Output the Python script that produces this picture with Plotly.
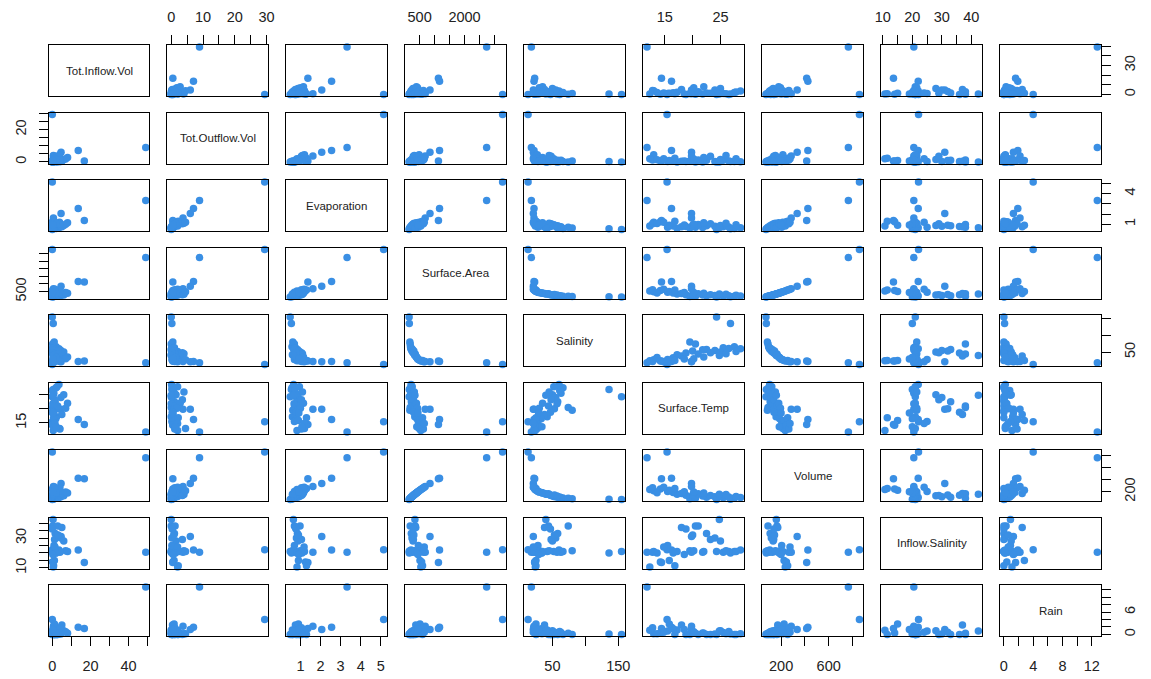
import plotly.graph_objects as go

# Variables shown on the diagonal, in panel order
names = ["Tot.Inflow.Vol", "Tot.Outflow.Vol", "Evaporation", "Surface.Area",
         "Salinity", "Surface.Temp", "Volume", "Inflow.Salinity", "Rain"]

tot_inflow_vol = [0, 49, 13.6, 16.8, 4.6, 0.6,
                  0, 0.5, 1.0, 0.2, 2.0, 0.8, 3.5, 1.5, 0, 4.5, 2.5, 0.3, 6.0, 1.2, 3.0, 0.6,
                  2.2, 2.8, 5.0, 8.0, 1.8, 7.0, 0.9, 3.8, 1.1, 0.5, 0.1, 0.7, 4.0, 1.4, 0, 0.4,
                  2.0, 0.3]
tot_outflow_vol = [29.4, 8.9, 7.0, 0.5, 6.0, 3.7,
                   0, 0.2, 0.5, 0, 0.3, 1.0, 0.1, 1.0, 0.6, 0.2, 2.0, 0, 1.5, 3.5, 0.8, 4.0, 0,
                   1.2, 0.4, 2.8, 0.7, 1.8, 0.2, 4.5, 0.9, 2.0, 0.5, 2.2, 1.1, 2.0, 0.3, 0, 1.3,
                   0.6]
evaporation = [5.14, 3.32, 2.55, 1.37, 2.06, 1.62,
               0.49, 0.55, 0.62, 0.70, 0.58, 0.75, 0.66, 0.85, 0.72, 0.80, 0.95, 0.68, 0.88,
               1.05, 0.90, 1.10, 0.60, 0.98, 0.75, 1.15, 0.82, 1.00, 0.70, 1.20, 0.90, 0.83,
               1.25, 1.30, 1.05, 1.18, 0.78, 0.65, 1.08, 0.92]
surface_area = [3270, 2738, 1165, 1128, 846, 687,
                150, 156, 174, 185, 195, 206, 214, 223, 232, 245, 254, 268, 279, 291, 307, 324,
                338, 355, 372, 393, 413, 431, 458, 484, 512, 540, 568, 597, 626, 656, 295, 343,
                405, 444]
salinity = [13, 18, 22, 23, 21, 22,
            155, 136, 80, 74, 66, 63, 60, 58, 61, 55, 52, 57, 50, 48, 53, 45, 42, 44, 38, 35,
            33, 30, 28, 27, 25, 24, 23, 25, 22, 21, 47, 40, 34, 29]
surface_temp = [15.4, 11.8, 16.2, 14.4, 19.8, 19.8,
                24.3, 26.8, 19.5, 20.5, 27.5, 25.5, 28.6, 22.5, 26.5, 24.0, 27.8, 21.8, 25.0,
                23.2, 20.0, 26.0, 17.2, 21.0, 18.0, 22.0, 16.5, 20.2, 15.5, 13.0, 15.8, 12.3,
                14.2, 16.8, 12.8, 14.8, 18.8, 24.8, 13.6, 18.5]
volume = [858, 765, 425, 415, 335, 285,
          73, 76, 85, 90, 95, 100, 104, 108, 112, 118, 122, 128, 133, 138, 145, 152, 158, 165,
          172, 180, 188, 195, 205, 215, 225, 235, 245, 255, 265, 275, 140, 160, 185, 200]
inflow_salinity = [22.1, 20.5, 22.0, 13.6, 31.0, 20.5,
                   21, 20, 21.5, 38, 21, 20.5, 22, 33, 21, 30, 21, 20.5, 28, 29, 32, 21.5, 21,
                   38, 37, 21, 20, 21.5, 25, 21, 15, 10.7, 14, 11.5, 20.5, 24, 36, 42.4, 20, 19]
rain = [4.0, 12.75, 1.9, 1.6, 1.3, 2.2,
        0, 0.1, 0, 0.3, 0, 0.5, 0.2, 0, 0.8, 0.1, 0, 0.4, 1.0, 0, 0.6, 0.2, 1.2, 0, 2.5, 0.3,
        1.5, 0.7, 0.9, 0.2, 2.8, 1.1, 0.4, 0, 1.8, 0.6, 0, 0.9, 0.2, 1.3]

columns = [tot_inflow_vol, tot_outflow_vol, evaporation, surface_area, salinity,
           surface_temp, volume, inflow_salinity, rain]

tick_vals = [
    [0, 10, 20, 30, 40, 50],
    [0, 5, 10, 15, 20, 25, 30],
    [1, 2, 3, 4, 5],
    [500, 1000, 1500, 2000, 2500, 3000],
    [50, 100, 150],
    [15, 20, 25],
    [200, 400, 600, 800],
    [10, 15, 20, 25, 30, 35, 40],
    [0, 2, 4, 6, 8, 10, 12],
]
x_tick_text = [
    ["0", "", "20", "", "40", ""],
    ["0", "", "10", "", "20", "", "30"],
    ["1", "2", "3", "4", "5"],
    ["500", "", "", "2000", "", ""],
    ["50", "", "150"],
    ["15", "", "25"],
    ["200", "", "600", ""],
    ["10", "", "20", "", "30", "", "40"],
    ["0", "", "4", "", "8", "", "12"],
]
y_tick_text = [
    ["0", "", "", "30", "", ""],
    ["0", "", "", "", "20", "", ""],
    ["1", "", "", "4", ""],
    ["500", "", "", "", "", ""],
    ["50", "", ""],
    ["15", "", ""],
    ["200", "", "", ""],
    ["10", "", "", "", "30", "", ""],
    ["0", "", "", "6", "", "", ""],
]

W, H = 1151, 679
N = len(names)
COL_LEFT, COL_STEP, PANEL_W = 43.0, 120.2, 102.0
ROW_TOP, ROW_STEP, PANEL_H = 45.5, 68.0, 51.5
POINT_COLOR = "#3a8fe4"
FONT = "Arial, Liberation Sans, sans-serif"
TICK_FONT = dict(size=14.5, color="#222", family=FONT)


def padded_range(values):
    lo, hi = min(values), max(values)
    pad = 0.04 * (hi - lo)
    return [lo - pad, hi + pad]


ranges = [padded_range(v) for v in columns]

fig = go.Figure()
layout = {}
for r in range(N):
    for c in range(N):
        k = r * N + c + 1
        sfx = "" if k == 1 else str(k)
        x0 = (COL_LEFT + c * COL_STEP) / W
        x1 = (COL_LEFT + c * COL_STEP + PANEL_W) / W
        y1 = 1 - (ROW_TOP + r * ROW_STEP) / H
        y0 = 1 - (ROW_TOP + r * ROW_STEP + PANEL_H) / H

        xa = dict(domain=[x0, x1], range=ranges[c], anchor="y" + sfx,
                  showgrid=False, zeroline=False, showline=True, mirror=True,
                  linecolor="black", linewidth=1, showticklabels=False, ticks="")
        ya = dict(domain=[y0, y1], range=ranges[r], anchor="x" + sfx,
                  showgrid=False, zeroline=False, showline=True, mirror=True,
                  linecolor="black", linewidth=1, showticklabels=False, ticks="")
        tick_style = dict(ticks="outside", ticklen=9, tickwidth=1, tickcolor="black",
                          tickmode="array", showticklabels=True, tickfont=TICK_FONT,
                          ticklabelstandoff=7)

        # axes alternate between opposite sides around the panel grid
        if r == N - 1 and c % 2 == 0:
            xa.update(side="bottom", tickvals=tick_vals[c], ticktext=x_tick_text[c], **tick_style)
        if r == 0 and c % 2 == 1:
            xa.update(side="top", tickvals=tick_vals[c], ticktext=x_tick_text[c], **tick_style)
        if c == 0 and r % 2 == 1:
            ya.update(side="left", tickvals=tick_vals[r], ticktext=y_tick_text[r],
                      tickangle=-90, **tick_style)
        if c == N - 1 and r % 2 == 0:
            ya.update(side="right", tickvals=tick_vals[r], ticktext=y_tick_text[r],
                      tickangle=-90, **tick_style)

        layout["xaxis" + sfx] = xa
        layout["yaxis" + sfx] = ya

        if r == c:
            # empty trace keeps the diagonal panel's axes on the page
            fig.add_trace(go.Scatter(x=[None], y=[None], mode="markers",
                                     xaxis="x" + sfx, yaxis="y" + sfx,
                                     showlegend=False, hoverinfo="skip"))
            fig.add_annotation(text=names[r], x=0.5, y=0.5, xref="x" + sfx + " domain",
                               yref="y" + sfx + " domain", showarrow=False,
                               font=dict(size=11.5, color="#222", family=FONT))
        else:
            fig.add_trace(go.Scatter(x=columns[c], y=columns[r], mode="markers",
                                     xaxis="x" + sfx, yaxis="y" + sfx,
                                     marker=dict(size=7.5, color=POINT_COLOR, line=dict(width=0)),
                                     showlegend=False, hoverinfo="skip", cliponaxis=False))

fig.update_layout(width=W, height=H, margin=dict(l=0, r=0, t=0, b=0),
                  paper_bgcolor="white", plot_bgcolor="white", showlegend=False, **layout)
fig.write_html("out.html")
